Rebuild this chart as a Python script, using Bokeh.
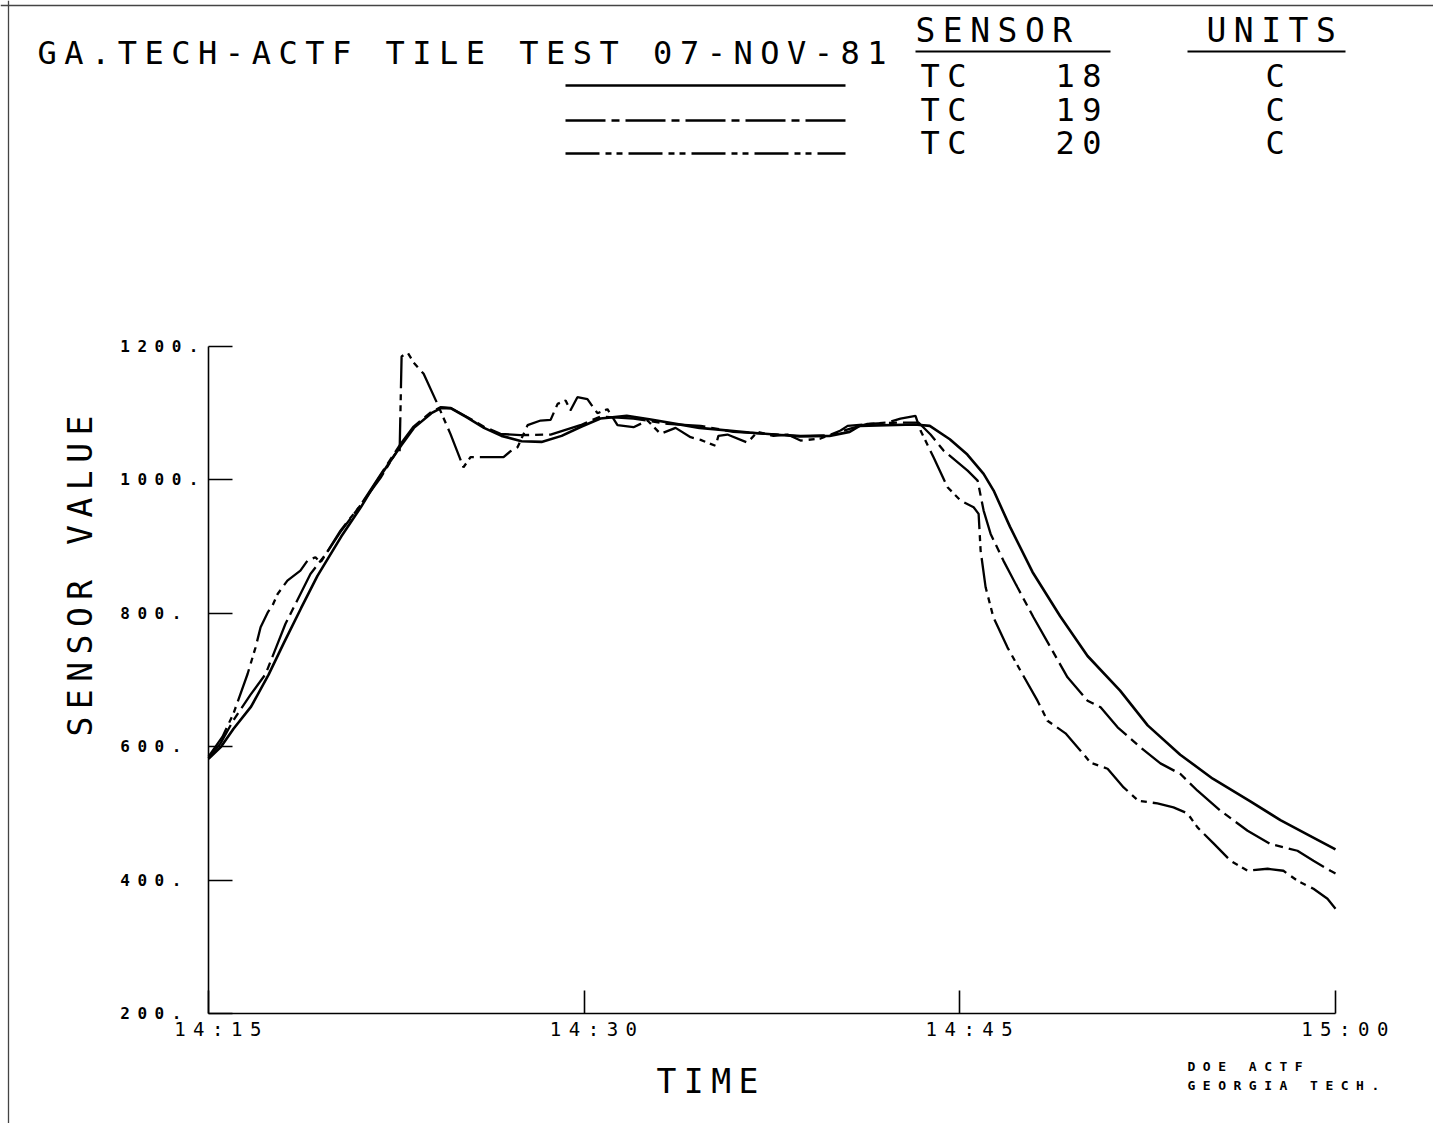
from math import pi

from bokeh.embed import file_html
from bokeh.models import FixedTicker, Label, PolyAnnotation, Range1d, Span
from bokeh.plotting import figure
from bokeh.resources import INLINE

# ---------------------------------------------------------------- data
# time axis in minutes after 14:15
TIME_TICKS = [0, 15, 30, 45]
TIME_TICK_LABELS = ["14:15", "14:30", "14:45", "15:00"]
VALUE_TICKS = [200, 400, 600, 800, 1000, 1200]
VALUE_TICK_LABELS = ["200.", "400.", "600.", "800.", "1000.", "1200."]

SENSOR_TYPES = ["TC", "TC", "TC"]
SENSOR_NUMBERS = ["18", "19", "20"]
SENSOR_UNITS = ["C", "C", "C"]

tc18_min = [0.0, 0.5, 1.0, 1.7, 2.4, 3.0, 3.7, 4.35, 5.3, 6.1,
            6.6, 7.15, 7.7, 8.2, 8.9, 9.3, 9.7, 10.3, 11.0, 11.7,
            12.5, 13.3, 14.1, 14.9, 15.65, 16.7, 17.6, 19.6, 21.6, 23.6,
            24.8, 25.6, 26.0, 28.2, 28.8, 29.6, 30.3, 30.95, 31.35, 32.0,
            32.9, 34.0, 35.1, 36.4, 37.5, 38.8, 40.1, 41.6, 42.8, 44.0,
            45.0]
tc18_val = [582, 600, 627, 660, 708, 755, 808, 856, 915, 960,
            991, 1022, 1052, 1078, 1100, 1108, 1107, 1094, 1078, 1066,
            1058, 1057, 1066, 1080, 1092, 1096, 1091, 1078, 1071, 1065,
            1066, 1072, 1081, 1083, 1081, 1061, 1038, 1009, 984, 930,
            862, 796, 736, 684, 632, 588, 552, 518, 490, 466,
            446]

tc19_min = [0.0, 0.48, 1.0, 1.68, 2.28, 3.07, 4.07, 4.67, 5.27, 6.07,
            7.15, 7.67, 8.19, 8.86, 9.26, 9.66, 10.34, 10.98, 11.66, 12.46,
            13.66, 14.85, 15.65, 16.97, 18.33, 19.65, 20.96, 22.32, 23.64, 24.84,
            25.63, 26.31, 27.63, 28.35, 28.83, 29.35, 30.31, 30.71, 30.95, 31.23,
            31.74, 32.3, 32.94, 33.62, 34.3, 35.1, 35.62, 36.3, 37.21, 38.01,
            38.81, 39.49, 40.41, 41.49, 42.41, 43.48, 44.12, 44.8, 45.0]
tc19_val = [583, 605, 640, 678, 709, 784, 859, 888, 922, 962,
            1024, 1054, 1080, 1101, 1109, 1108, 1094, 1080, 1069, 1067,
            1068, 1082, 1095, 1092, 1084, 1081, 1072, 1069, 1066, 1067,
            1077, 1084, 1086, 1086, 1068, 1044, 1014, 999, 954, 919,
            879, 839, 794, 749, 704, 669, 659, 629, 599, 575,
            559, 534, 504, 474, 454, 444, 429, 414, 410]

tc20_min = [0.0, 0.56, 1.0, 1.56, 1.88, 2.08, 2.36, 2.56, 2.76, 3.15,
            3.67, 3.95, 4.27, 4.47, 5.27, 6.07, 6.87, 7.47, 7.63, 7.71,
            7.95, 8.19, 8.59, 9.14, 9.66, 9.94, 10.18, 10.46, 11.14, 11.78,
            12.06, 12.34, 12.74, 13.26, 13.66, 13.94, 14.26, 14.45, 14.73, 15.13,
            15.53, 15.93, 16.33, 16.97, 17.53, 18.05, 18.65, 19.25, 19.65, 20.25,
            20.36, 20.72, 21.52, 21.92, 22.56, 23.12, 23.64, 24.44, 25.24, 25.52,
            26.43, 27.11, 27.63, 28.23, 28.43, 28.95, 29.51, 30.03, 30.55, 30.75,
            30.83, 31.03, 31.34, 31.9, 32.42, 33.1, 33.5, 34.22, 34.82, 35.22,
            35.9, 36.54, 37.13, 37.89, 38.53, 39.09, 39.49, 40.13, 40.81, 41.49,
            42.29, 42.92, 43.48, 44.12, 44.68, 45.0]
tc20_val = [585, 615, 650, 709, 749, 779, 801, 812, 829, 849,
            864, 879, 884, 876, 924, 962, 1003, 1040, 1040, 1185,
            1191, 1176, 1159, 1114, 1069, 1042, 1019, 1034, 1034, 1034,
            1043, 1049, 1082, 1089, 1090, 1114, 1119, 1104, 1124, 1121,
            1100, 1106, 1082, 1079, 1089, 1069, 1078, 1064, 1060, 1051,
            1066, 1068, 1056, 1072, 1066, 1068, 1059, 1062, 1074, 1081,
            1084, 1086, 1092, 1096, 1074, 1034, 989, 969, 959, 949,
            894, 839, 794, 749, 714, 669, 639, 620, 594, 576,
            567, 539, 519, 515, 509, 500, 479, 455, 429, 414,
            417, 414, 399, 387, 372, 357]

# ---------------------------------------------------------------- layout
W, H = 1433, 1123
# where the axes box sits on the sheet (pixels from the top-left corner)
BOX_LEFT, BOX_RIGHT, BOX_TOP, BOX_BOTTOM = 208, 1335, 346, 1013
X_START, X_END = TIME_TICKS[0], TIME_TICKS[-1]
Y_START, Y_END = VALUE_TICKS[0], VALUE_TICKS[-1]
FONT = "DejaVu Sans Mono"
INK = "black"
LETTER_SPACING = 7.5
BASELINE_LIFT = 0.36   # label anchor sits this many ems below the letters' baseline


def to_data(px, py):
    """Sheet pixel position -> data coordinates."""
    x = X_START + (px - BOX_LEFT) * (X_END - X_START) / (BOX_RIGHT - BOX_LEFT)
    y = Y_START + (BOX_BOTTOM - py) * (Y_END - Y_START) / (BOX_BOTTOM - BOX_TOP)
    return x, y


# the frame fills the whole sheet; the axes are pinned at the box corner
x0, y1 = to_data(0, 0)
x1, y0 = to_data(W, H)
p = figure(
    width=W, height=H, title=None,
    x_range=Range1d(x0, x1), y_range=Range1d(y0, y1),
    output_backend="svg", toolbar_location=None,
    min_border=0, min_border_left=0, min_border_right=0,
    min_border_top=0, min_border_bottom=0,
    background_fill_color="white", border_fill_color="white",
    outline_line_color=None,
)
# plotter lettering: wide character cells, spaces kept as typed
p.styles = {"letter-spacing": f"{LETTER_SPACING}px", "white-space": "pre"}
p.xgrid.visible = False
p.ygrid.visible = False

xa = p.xaxis[0]
xa.fixed_location = Y_START
xa.bounds = (X_START, X_END)
xa.ticker = FixedTicker(ticks=TIME_TICKS)
# trailing blank keeps the spaced-out label centred on its tick
xa.major_label_overrides = {t: lab + " " for t, lab in zip(TIME_TICKS, TIME_TICK_LABELS)}
xa.major_tick_in = 23
xa.major_tick_out = 0
xa.minor_tick_line_color = None
xa.axis_line_width = 1.6
xa.major_tick_line_width = 1.6
xa.axis_line_color = INK
xa.major_tick_line_color = INK
xa.major_label_text_font = FONT
xa.major_label_text_font_size = "19px"
xa.major_label_text_color = INK
xa.major_label_standoff = 4

ya = p.yaxis[0]
ya.fixed_location = X_START
ya.bounds = (Y_START, Y_END)
ya.ticker = FixedTicker(ticks=VALUE_TICKS)
# all value labels padded to one width so their right edges line up
width = max(len(s) for s in VALUE_TICK_LABELS)
ya.major_label_overrides = {v: lab.rjust(width) for v, lab in zip(VALUE_TICKS, VALUE_TICK_LABELS)}
ya.major_tick_in = 24
ya.major_tick_out = 0
ya.minor_tick_line_color = None
ya.axis_line_width = 1.6
ya.major_tick_line_width = 1.6
ya.axis_line_color = INK
ya.major_tick_line_color = INK
ya.major_label_text_font = FONT
ya.major_label_text_font_size = "16px"
ya.major_label_text_font_style = "bold"
ya.major_label_text_color = INK
ya.major_label_standoff = int(10 + (width - 1) * LETTER_SPACING)

# ---------------------------------------------------------------- series
STYLES = [
    dict(line_width=2.6),
    dict(line_width=2.3, line_dash="40 6 8 6"),
    dict(line_width=2.3, line_dash="34 6 6 5 6 6"),
]
p.line(tc18_min, tc18_val, line_color=INK, **STYLES[0])
p.line(tc19_min, tc19_val, line_color=INK, **STYLES[1])
p.line(tc20_min, tc20_val, line_color=INK, **STYLES[2])


def text_at(px, py, text, size, bold=False, vertical=False):
    """Place text with its baseline starting at sheet pixel (px, py)."""
    lift = BASELINE_LIFT * size
    if vertical:
        x, y = to_data(px - lift, py)
    else:
        x, y = to_data(px, py - lift)
    p.add_layout(Label(
        x=x, y=y, text=text, angle=pi / 2 if vertical else 0.0,
        text_font=FONT, text_font_size=f"{size}px",
        text_font_style="bold" if bold else "normal",
        text_align="left", text_baseline="alphabetic", text_color=INK,
    ))


def rule(px0, px1, py, width=1.8):
    (xa0, ya0), (xa1, _) = to_data(px0, py), to_data(px1, py)
    p.add_layout(PolyAnnotation(xs=[xa0, xa1], ys=[ya0, ya0], line_color=INK,
                                line_alpha=1.0, line_width=width, fill_alpha=0))


# ---------------------------------------------------------------- header
text_at(37, 64, "GA.TECH-ACTF TILE TEST 07-NOV-81", 32)

text_at(915, 42, "SENSOR", 33)
text_at(1206, 42, "UNITS", 33)
rule(915, 1110, 51)
rule(1187, 1345, 51)

KEY_LEFT, KEY_RIGHT = 565, 845
KEY_LINE_Y = [85, 120, 153]
KEY_BASE_Y = [87, 121, 154]
for i in range(3):
    ky = to_data(0, KEY_LINE_Y[i])[1]
    kx0, kx1 = to_data(KEY_LEFT, 0)[0], to_data(KEY_RIGHT, 0)[0]
    p.line([kx0, kx1], [ky, ky], line_color=INK, **STYLES[i])
    text_at(920, KEY_BASE_Y[i], SENSOR_TYPES[i], 32)
    text_at(1055, KEY_BASE_Y[i], SENSOR_NUMBERS[i], 32)
    text_at(1265, KEY_BASE_Y[i], SENSOR_UNITS[i], 32)

# ---------------------------------------------------------------- axis titles, credit
text_at(656, 1093, "TIME", 33)
text_at(92, 736, "SENSOR VALUE", 33, vertical=True)
text_at(1187, 1071, "DOE ACTF", 13, bold=True)
text_at(1187, 1090, "GEORGIA TECH.", 13, bold=True)

# sheet edge
p.add_layout(Span(location=to_data(0, 5)[1], dimension="width",
                  line_color="#444444", line_width=1.3))
p.add_layout(Span(location=to_data(8, 0)[0], dimension="height",
                  line_color="#444444", line_width=1.3))

open("out.html", "w").write(file_html(p, INLINE))
